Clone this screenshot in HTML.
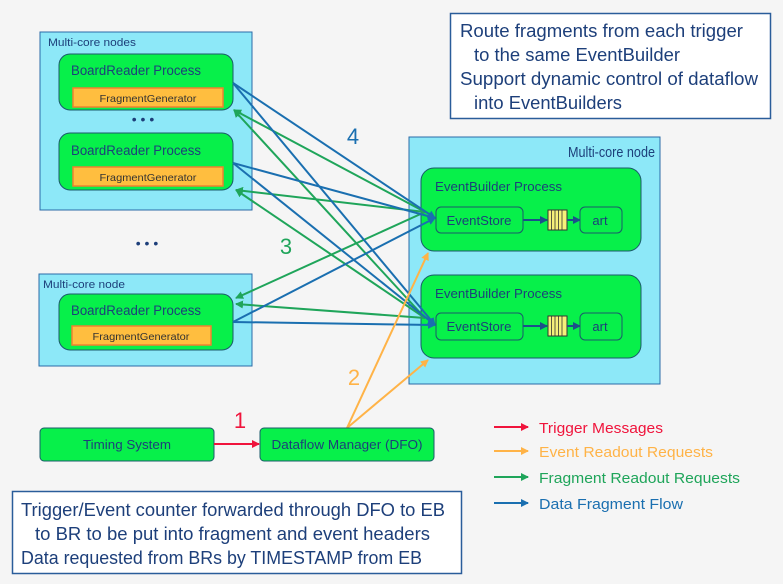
<!DOCTYPE html>
<html><head><meta charset="utf-8"><style>
html,body{margin:0;padding:0;background:#f5f5f5;}
svg{display:block;font-family:"Liberation Sans",sans-serif;}
</style></head><body>
<svg width="783" height="584" viewBox="0 0 783 584" xmlns="http://www.w3.org/2000/svg">
<defs>
<marker id="mb" markerWidth="8" markerHeight="8" refX="7" refY="4" orient="auto" markerUnits="userSpaceOnUse"><path d="M0,0 L8,4 L0,8 z" fill="#1a6fb0"/></marker>
<marker id="mg" markerWidth="8" markerHeight="8" refX="7" refY="4" orient="auto" markerUnits="userSpaceOnUse"><path d="M0,0 L8,4 L0,8 z" fill="#1fa55a"/></marker>
<marker id="mo" markerWidth="8" markerHeight="8" refX="7" refY="4" orient="auto" markerUnits="userSpaceOnUse"><path d="M0,0 L8,4 L0,8 z" fill="#ffb347"/></marker>
<marker id="mr" markerWidth="8" markerHeight="8" refX="7" refY="4" orient="auto" markerUnits="userSpaceOnUse"><path d="M0,0 L8,4 L0,8 z" fill="#f0143c"/></marker>
<marker id="md" markerWidth="8" markerHeight="8" refX="7" refY="4" orient="auto" markerUnits="userSpaceOnUse"><path d="M0,0 L8,4 L0,8 z" fill="#1d4f8a"/></marker>
</defs>
<rect width="783" height="584" fill="#f5f5f5"/>

<!-- top right box -->
<rect x="450.5" y="13.5" width="320" height="105" fill="#fff" stroke="#2a5d9a" stroke-width="1.5"/>
<g fill="#1d3f7a" font-size="18">
<text x="460" y="37" textLength="283" lengthAdjust="spacingAndGlyphs">Route fragments from each trigger</text>
<text x="474" y="61" textLength="206" lengthAdjust="spacingAndGlyphs">to the same EventBuilder</text>
<text x="460" y="85" textLength="298" lengthAdjust="spacingAndGlyphs">Support dynamic control of dataflow</text>
<text x="474" y="109" textLength="148" lengthAdjust="spacingAndGlyphs">into EventBuilders</text>
</g>

<!-- left nodes -->
<rect x="40" y="32" width="212" height="178" fill="#8de8f8" stroke="#2a6aa8" stroke-width="1"/>
<text x="48" y="46" font-size="11" fill="#1d3f7a" textLength="88" lengthAdjust="spacingAndGlyphs">Multi-core nodes</text>
<rect x="59" y="54" width="174" height="56" rx="11" fill="#07f04a" stroke="#1b5a6a"/>
<text x="71" y="75" font-size="13.5" fill="#1d3f7a" textLength="130" lengthAdjust="spacingAndGlyphs">BoardReader Process</text>
<rect x="73" y="88" width="150" height="19" fill="#ffbe3f" stroke="#f08030" stroke-width="1.5"/>
<text x="148" y="102" font-size="10.5" fill="#333" text-anchor="middle" textLength="97" lengthAdjust="spacingAndGlyphs">FragmentGenerator</text>
<text x="143" y="124" font-size="14" fill="#1d3f7a" text-anchor="middle">• • •</text>
<rect x="59" y="133" width="174" height="57" rx="11" fill="#07f04a" stroke="#1b5a6a"/>
<text x="71" y="155" font-size="13.5" fill="#1d3f7a" textLength="130" lengthAdjust="spacingAndGlyphs">BoardReader Process</text>
<rect x="73" y="167" width="150" height="19" fill="#ffbe3f" stroke="#f08030" stroke-width="1.5"/>
<text x="148" y="181" font-size="10.5" fill="#333" text-anchor="middle" textLength="97" lengthAdjust="spacingAndGlyphs">FragmentGenerator</text>
<text x="147" y="248" font-size="14" fill="#1d3f7a" text-anchor="middle">• • •</text>

<rect x="39" y="274" width="213" height="92" fill="#8de8f8" stroke="#2a6aa8" stroke-width="1"/>
<text x="43" y="288" font-size="11" fill="#1d3f7a" textLength="82" lengthAdjust="spacingAndGlyphs">Multi-core node</text>
<rect x="59" y="294" width="174" height="56" rx="11" fill="#07f04a" stroke="#1b5a6a"/>
<text x="71" y="315" font-size="13.5" fill="#1d3f7a" textLength="130" lengthAdjust="spacingAndGlyphs">BoardReader Process</text>
<rect x="72" y="326" width="139" height="19" fill="#ffbe3f" stroke="#f08030" stroke-width="1.5"/>
<text x="141" y="340" font-size="10.5" fill="#333" text-anchor="middle" textLength="97" lengthAdjust="spacingAndGlyphs">FragmentGenerator</text>

<!-- right node -->
<rect x="409" y="137" width="251" height="247" fill="#8de8f8" stroke="#2a6aa8" stroke-width="1"/>
<text x="568" y="157" font-size="15" fill="#1d3f7a" textLength="87" lengthAdjust="spacingAndGlyphs">Multi-core node</text>
<g>
<rect x="421" y="168" width="220" height="83" rx="13" fill="#07f04a" stroke="#1b5a6a"/>
<text x="435" y="191" font-size="13" fill="#1d3f7a" textLength="127" lengthAdjust="spacingAndGlyphs">EventBuilder Process</text>
<rect x="436" y="207" width="87" height="26" rx="5" fill="#07f04a" stroke="#1b5a6a"/>
<text x="479" y="225" font-size="13" fill="#1d3f7a" text-anchor="middle" textLength="65" lengthAdjust="spacingAndGlyphs">EventStore</text>
<line x1="523" y1="220" x2="547" y2="220" stroke="#1d4f8a" stroke-width="2" marker-end="url(#md)"/>
<rect x="548" y="210" width="19" height="20" fill="#f5f07a" stroke="#333"/>
<path d="M551.5 210v20M555 210v20M558.5 210v20M562 210v20" stroke="#333" stroke-width="0.8"/>
<line x1="567" y1="220" x2="580" y2="220" stroke="#1d4f8a" stroke-width="2" marker-end="url(#md)"/>
<rect x="580" y="207" width="42" height="26" rx="5" fill="#07f04a" stroke="#1b5a6a"/>
<text x="600" y="225" font-size="13" fill="#1d3f7a" text-anchor="middle">art</text>
</g>
<g>
<rect x="421" y="275" width="220" height="83" rx="13" fill="#07f04a" stroke="#1b5a6a"/>
<text x="435" y="298" font-size="13" fill="#1d3f7a" textLength="127" lengthAdjust="spacingAndGlyphs">EventBuilder Process</text>
<rect x="436" y="313" width="87" height="27" rx="5" fill="#07f04a" stroke="#1b5a6a"/>
<text x="479" y="331" font-size="13" fill="#1d3f7a" text-anchor="middle" textLength="65" lengthAdjust="spacingAndGlyphs">EventStore</text>
<line x1="523" y1="326" x2="547" y2="326" stroke="#1d4f8a" stroke-width="2" marker-end="url(#md)"/>
<rect x="548" y="316" width="19" height="20" fill="#f5f07a" stroke="#333"/>
<path d="M551.5 316v20M555 316v20M558.5 316v20M562 316v20" stroke="#333" stroke-width="0.8"/>
<line x1="567" y1="326" x2="580" y2="326" stroke="#1d4f8a" stroke-width="2" marker-end="url(#md)"/>
<rect x="580" y="313" width="42" height="27" rx="5" fill="#07f04a" stroke="#1b5a6a"/>
<text x="600" y="331" font-size="13" fill="#1d3f7a" text-anchor="middle">art</text>
</g>

<!-- green arrows -->
<g stroke="#1fa55a" stroke-width="2" fill="none" marker-end="url(#mg)">
<line x1="425" y1="212" x2="234" y2="110"/>
<line x1="425" y1="318" x2="234" y2="110"/>
<line x1="425" y1="212" x2="236" y2="190"/>
<line x1="425" y1="318" x2="236" y2="190"/>
<line x1="425" y1="212" x2="236" y2="298"/>
<line x1="425" y1="318" x2="236" y2="304"/>
</g>
<!-- blue arrows -->
<g stroke="#1a6fb0" stroke-width="2" fill="none" marker-end="url(#mb)">
<line x1="233" y1="83" x2="435" y2="218"/>
<line x1="233" y1="83" x2="435" y2="325"/>
<line x1="233" y1="163" x2="435" y2="218"/>
<line x1="233" y1="163" x2="435" y2="325"/>
<line x1="233" y1="322" x2="435" y2="218"/>
<line x1="233" y1="322" x2="435" y2="325"/>
</g>
<!-- orange -->
<g stroke="#ffb347" stroke-width="2" fill="none" marker-end="url(#mo)">
<line x1="347" y1="428" x2="428" y2="253"/>
<line x1="347" y1="428" x2="428" y2="360"/>
</g>
<text x="354" y="385" font-size="22" fill="#ffb347" text-anchor="middle">2</text>
<text x="286" y="254" font-size="22" fill="#1fa55a" text-anchor="middle">3</text>
<text x="353" y="144" font-size="22" fill="#1a6fb0" text-anchor="middle">4</text>

<!-- bottom -->
<rect x="40" y="428" width="174" height="33" rx="4" fill="#07f04a" stroke="#1b5a6a"/>
<text x="127" y="449" font-size="13" fill="#1d3f7a" text-anchor="middle" textLength="88" lengthAdjust="spacingAndGlyphs">Timing System</text>
<rect x="260" y="428" width="174" height="33" rx="4" fill="#07f04a" stroke="#1b5a6a"/>
<text x="347" y="449" font-size="13" fill="#1d3f7a" text-anchor="middle" textLength="151" lengthAdjust="spacingAndGlyphs">Dataflow Manager (DFO)</text>
<line x1="214" y1="444" x2="259" y2="444" stroke="#f0143c" stroke-width="2" marker-end="url(#mr)"/>
<text x="240" y="428" font-size="22" fill="#f0143c" text-anchor="middle">1</text>

<!-- legend -->
<line x1="494" y1="427" x2="528" y2="427" stroke="#f0143c" stroke-width="2" marker-end="url(#mr)"/>
<text x="539" y="433" font-size="15" fill="#f0143c" textLength="124" lengthAdjust="spacingAndGlyphs">Trigger Messages</text>
<line x1="494" y1="451" x2="528" y2="451" stroke="#ffb347" stroke-width="2" marker-end="url(#mo)"/>
<text x="539" y="457" font-size="15" fill="#ffb347" textLength="174" lengthAdjust="spacingAndGlyphs">Event Readout Requests</text>
<line x1="494" y1="477" x2="528" y2="477" stroke="#1fa55a" stroke-width="2" marker-end="url(#mg)"/>
<text x="539" y="483" font-size="15" fill="#1fa55a" textLength="201" lengthAdjust="spacingAndGlyphs">Fragment Readout Requests</text>
<line x1="494" y1="503" x2="528" y2="503" stroke="#1a6fb0" stroke-width="2" marker-end="url(#mb)"/>
<text x="539" y="509" font-size="15" fill="#1a6fb0" textLength="144" lengthAdjust="spacingAndGlyphs">Data Fragment Flow</text>

<rect x="12.5" y="491.5" width="449" height="82" fill="#fff" stroke="#2a5d9a" stroke-width="1.5"/>
<g fill="#1d3f7a" font-size="18">
<text x="21" y="516" textLength="424" lengthAdjust="spacingAndGlyphs">Trigger/Event counter forwarded through DFO to EB</text>
<text x="35" y="540" textLength="395" lengthAdjust="spacingAndGlyphs">to BR to be put into fragment and event headers</text>
<text x="21" y="564" textLength="401" lengthAdjust="spacingAndGlyphs">Data requested from BRs by TIMESTAMP from EB</text>
</g>
</svg>
</body></html>
